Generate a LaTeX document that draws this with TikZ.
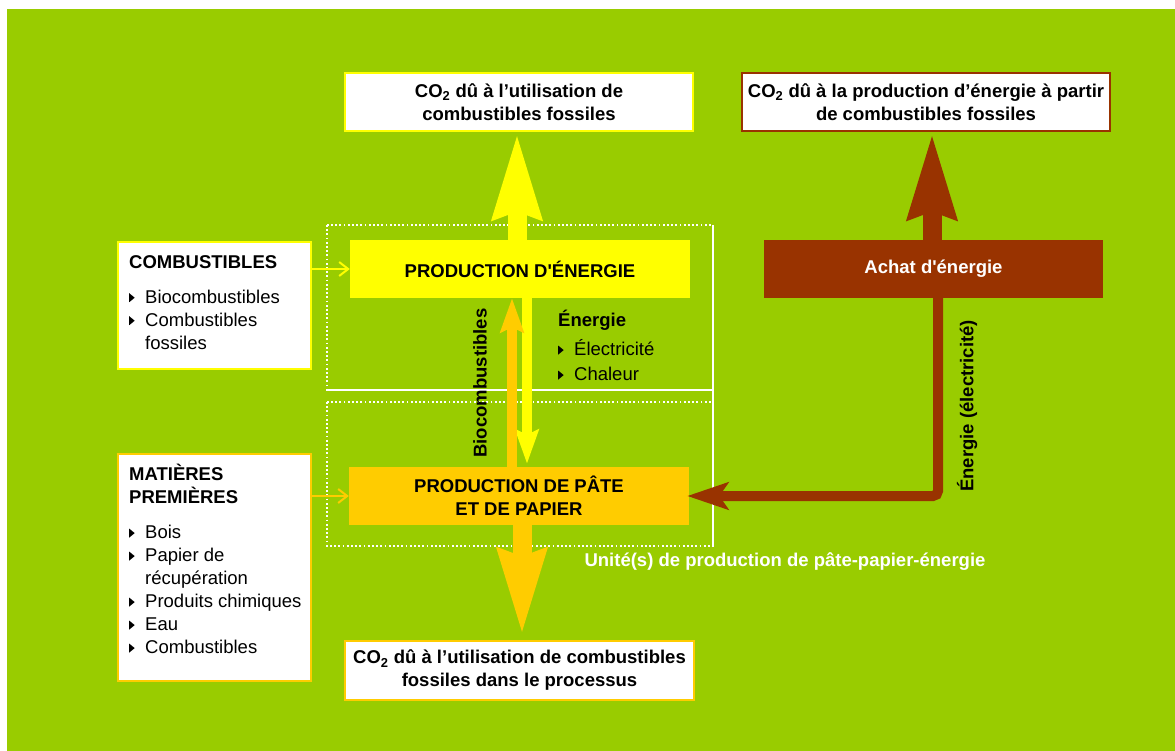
\documentclass[tikz,border=0pt]{standalone}
\usepackage{fontspec}
\setmainfont{Liberation Sans}
\usetikzlibrary{positioning,arrows.meta,calc}
\definecolor{cField}{HTML}{99CC00}
\definecolor{cEner}{HTML}{FFFF00}
\definecolor{cPulp}{HTML}{FFCC00}
\definecolor{cBuy}{HTML}{993300}
\definecolor{cInk}{HTML}{000000}
\newcommand{\diafont}{\fontsize{18.5}{23}\selectfont}
\newcommand{\bul}{\makebox[16pt][l]{\tikz[baseline=0pt]\fill[cInk] (0pt,1pt) -- (0pt,10pt) -- (5.5pt,5.5pt) -- cycle;}}
\newcommand{\ind}{\hspace*{16pt}}

\begin{document}
\begin{tikzpicture}[
  x=1pt, y=-1pt,
  font=\diafont,
  outbox/.style={draw, fill=white, line width=2.5pt, font=\diafont\bfseries, align=center,
                 inner sep=0pt, text=cInk},
  inbox/.style={draw, fill=white, line width=2.5pt, inner sep=0pt},
  stage/.style={font=\diafont\bfseries, align=center, inner sep=0pt, text=cInk},
  listtxt/.style={align=left, inner sep=0pt, anchor=north west, text=cInk},
  vlabel/.style={font=\diafont\bfseries, rotate=90, text=cInk},
  fat/.style={line width=19pt, -{Stealth[width=46pt,length=85pt,inset=6pt]}},
  slim/.style={line width=10pt, -{Stealth[width=23pt,length=34pt,inset=5pt]}},
  elbow/.style={line width=10pt, rounded corners=5pt,
                -{Stealth[width=27pt,length=41pt,inset=9pt]}},
  feed/.style={line width=2pt, -{Straight Barb[length=9pt,width=14pt]}},
  dotline/.style={draw=white, line width=1.8pt, dash pattern=on 1.8pt off 2.4pt},
  wline/.style={draw=white, line width=2pt}]

\useasboundingbox (0,0) rectangle (1175,751);
\fill[cField] (7,9) rectangle (1175,751);

% ---------- unit frame ----------
\draw[dotline] (327,225) rectangle (713,390);
\draw[dotline] (327,402) rectangle (713,546);
\draw[wline] (327,390) -- (713,390);
\draw[wline] (713,225) -- (713,547);
\node[font=\diafont\bfseries, text=white] (unit) at (785,562) {Unité(s) de production de pâte-papier-énergie};

% ---------- CO2 outputs ----------
\node[outbox, draw=cEner, minimum width=348, minimum height=58] (co2use) at (519,102)
      {CO\textsubscript{2} dû à l’utilisation de\\combustibles fossiles};
\node[outbox, draw=cBuy, minimum width=368, minimum height=58] (co2en) at (926,102)
      {CO\textsubscript{2} dû à la production d’énergie à partir\\de combustibles fossiles};
\node[outbox, draw=cPulp, minimum width=349, minimum height=59] (co2proc) at (519.5,670.5)
      {CO\textsubscript{2} dû à l’utilisation de combustibles\\fossiles dans le processus};

% ---------- production stages ----------
\node[stage, fill=cEner, minimum width=340, minimum height=58] (enprod) at (520,269)
      {PRODUCTION D\textquotesingle ÉNERGIE};
\node[stage, fill=cPulp, minimum width=340, minimum height=58] (pate) at (519,496)
      {PRODUCTION DE PÂTE\\ET DE PAPIER};
\node[stage, fill=cBuy, text=white, minimum width=339, minimum height=58] (achat) at (933.5,269)
      {Achat d\textquotesingle énergie};

% ---------- inputs ----------
\node[inbox, draw=cEner, minimum width=193, minimum height=127] (fuel) at (214.5,305.5) {};
\node[listtxt] (fueltxt) at (129,252)
      {\rule{0pt}{16pt}\textbf{COMBUSTIBLES}\\[12pt]\bul Biocombustibles\\\bul Combustibles\\\ind fossiles};
\node[inbox, draw=cPulp, minimum width=193, minimum height=227] (raw) at (214.5,567.5) {};
\node[listtxt] (rawtxt) at (129,464)
      {\rule{0pt}{16pt}\textbf{MATIÈRES}\\\textbf{PREMIÈRES}\\[12pt]\bul Bois\\\bul Papier de\\\ind récupération\\\bul Produits chimiques\\\bul Eau\\\bul Combustibles};

% ---------- flow labels ----------
\node[listtxt] (enlist) at (558,310)
      {\rule{0pt}{16pt}\textbf{Énergie}\\[6pt]\bul Électricité\\[2pt]\bul Chaleur};
\node[vlabel] (biolab) at (480,383) {Biocombustibles};
\node[vlabel] (elelab) at (967,406) {Énergie (électricité)};

% ---------- edges ----------
\draw[feed, draw=cEner] (fuel.east |- enprod.west) -- (enprod.west);
\draw[feed, draw=cPulp] (raw.east |- pate.west) -- (pate.west);
\draw[fat, draw=cEner] ([xshift=-3pt]enprod.north) -- ([xshift=-3pt]enprod.north |- co2use.south);
\draw[slim, draw=cEner, shorten >=3pt] ([xshift=7pt]enprod.south) -- ([xshift=7pt]enprod.south |- pate.north);
\draw[slim, draw=cPulp] ([xshift=-7pt]pate.north) -- ([xshift=-7pt]pate.north |- enprod.south);
\draw[fat, draw=cPulp, shorten >=4pt] ([xshift=3pt]pate.south) -- ([xshift=3pt]pate.south |- co2proc.north);
\draw[fat, draw=cBuy] ([xshift=-1.5pt]achat.north) -- ([xshift=-1.5pt]achat.north |- co2en.south);
\draw[elbow, draw=cBuy, shorten >=-2pt] ([xshift=4.5pt]achat.south) |- (pate.east);
\end{tikzpicture}
\end{document}
